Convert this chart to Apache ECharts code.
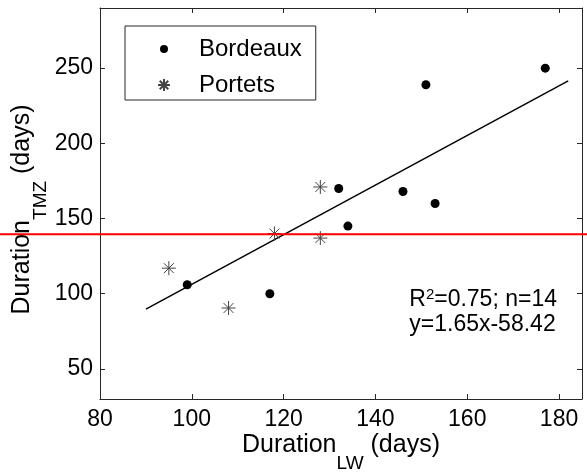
<!DOCTYPE html>
<html>
<head>
<meta charset="utf-8">
<script src="https://cdn.jsdelivr.net/npm/echarts@6/dist/echarts.min.js"></script>
<style>
  html, body { margin: 0; padding: 0; background: #fff; }
  #chart { width: 587px; height: 473px; }
</style>
</head>
<body>
<div id="chart"></div>
<script>
// Duration TMZ vs Duration LW — two sites as scatter, plus the linear fit
const bordeauxLW = [99, 117, 132, 134, 146, 151, 153, 177];
const bordeauxTMZ = [106, 100, 170, 145, 168, 239, 160, 250];
const portetsLW = [95, 108, 118, 128, 128];
const portetsTMZ = [117, 90.5, 140, 171, 137];
const fitLW = [90, 182];
const fitTMZ = [89.8, 241.6];
const xRange = [80, 185];
const yRange = [30, 290];
const refLineTMZ = 139.5;
const statsText = "R{sup|2}=0.75; n=14\ny=1.65x-58.42";

const AXIS = "#262626";
const FONT = "Liberation Sans, Arial, sans-serif";
const STAR = "path://M0,-10L0,10M-10,0L10,0M-7.07,-7.07L7.07,7.07M-7.07,7.07L7.07,-7.07";
// small dot for the legend: the two extra moveTo points pad the icon's box
const LEGEND_DOT = "path://M-15,-15M15,15M10,0A10,10,0,1,1,-10,0A10,10,0,1,1,10,0Z";

const pairs = (xs, ys) => xs.map((x, i) => [x, ys[i]]);

const chart = echarts.init(document.getElementById("chart"), null, { renderer: "canvas" });

const subRich = {
  sub: { fontSize: 19, lineHeight: 19, padding: [36, 0, 0, 0], fontFamily: FONT, color: "#000" },
};

const baseX = {
  type: "value",
  min: xRange[0],
  max: xRange[1],
  splitNumber: 5,
  splitLine: { show: false },
  axisLine: { show: true, lineStyle: { color: AXIS, width: 1 } },
  axisTick: { show: true, inside: true, length: 5, lineStyle: { color: AXIS } },
};
const baseY = {
  type: "value",
  min: yRange[0],
  max: yRange[1],
  splitNumber: 5,
  splitLine: { show: false },
  axisLine: { show: true, lineStyle: { color: AXIS, width: 1 } },
  axisTick: { show: true, inside: true, length: 5, lineStyle: { color: AXIS } },
};

chart.setOption({
  animation: false,
  backgroundColor: "#fff",
  textStyle: { fontFamily: FONT },
  grid: { left: 100, right: 5, top: 8, bottom: 74, containLabel: false, outerBoundsMode: "none" },
  legend: {
    orient: "vertical",
    left: 125,
    top: 26,
    data: [{ name: "Bordeaux", icon: LEGEND_DOT }, { name: "Portets" }],
    borderColor: AXIS,
    borderWidth: 1,
    padding: [11, 14, 3, 32],
    itemWidth: 12,
    itemHeight: 12,
    itemGap: 12,
    textStyle: { fontSize: 24, color: "#000", fontFamily: FONT, lineHeight: 24, padding: [0, 0, 0, 24] },
  },
  xAxis: [
    Object.assign({}, baseX, {
      position: "bottom",
      name: "Duration{sub|LW} (days)",
      nameLocation: "middle",
      nameGap: 32,
      nameMoveOverlap: false,
      nameTextStyle: { fontSize: 25, color: "#000", fontFamily: FONT, lineHeight: 29, rich: subRich },
      axisLabel: { fontSize: 23, color: "#000", margin: 9, showMaxLabel: false, fontFamily: FONT },
    }),
    Object.assign({}, baseX, { position: "top", axisLabel: { show: false } }),
  ],
  yAxis: [
    Object.assign({}, baseY, {
      position: "left",
      name: "Duration{sub|TMZ} (days)",
      nameLocation: "middle",
      nameGap: 63,
      nameMoveOverlap: false,
      nameTextStyle: {
        fontSize: 25, color: "#000", fontFamily: FONT, lineHeight: 29,
        padding: [0, 12, 0, 0], rich: subRich,
      },
      axisLabel: { fontSize: 23, color: "#000", margin: 7, showMinLabel: false, showMaxLabel: false, fontFamily: FONT },
    }),
    Object.assign({}, baseY, { position: "right", axisLabel: { show: false } }),
  ],
  series: [
    {
      name: "fit",
      type: "line",
      data: pairs(fitLW, fitTMZ),
      showSymbol: false,
      lineStyle: { color: "#000", width: 1.5 },
      z: 2,
    },
    {
      name: "Bordeaux",
      type: "scatter",
      data: pairs(bordeauxLW, bordeauxTMZ),
      symbol: "circle",
      symbolSize: 9,
      itemStyle: { color: "#000", opacity: 1 },
      z: 3,
    },
    {
      name: "Portets",
      type: "scatter",
      data: pairs(portetsLW, portetsTMZ),
      symbol: STAR,
      symbolSize: 14,
      itemStyle: { color: "#444", borderColor: "#444", borderWidth: 1, opacity: 1 },
      z: 3,
    },
  ],
});

// red reference line across the whole figure width, placed via the y scale
const py = chart.convertToPixel({ yAxisIndex: 0 }, refLineTMZ);
chart.setOption({
  graphic: [
    {
      type: "text",
      right: 30,
      top: 287,
      z: 50,
      style: {
        text: statsText,
        fontSize: 23,
        fontFamily: FONT,
        fill: "#000",
        lineHeight: 25,
        align: "right",
        rich: {
          sup: { fontSize: 15, lineHeight: 15, verticalAlign: "top", fontFamily: FONT, fill: "#000" },
        },
      },
    },
    {
      type: "line",
      z: 100,
      shape: { x1: 0, y1: py, x2: chart.getWidth(), y2: py },
      style: { stroke: "#ff0000", lineWidth: 2 },
    },
  ],
});
</script>
</body>
</html>
